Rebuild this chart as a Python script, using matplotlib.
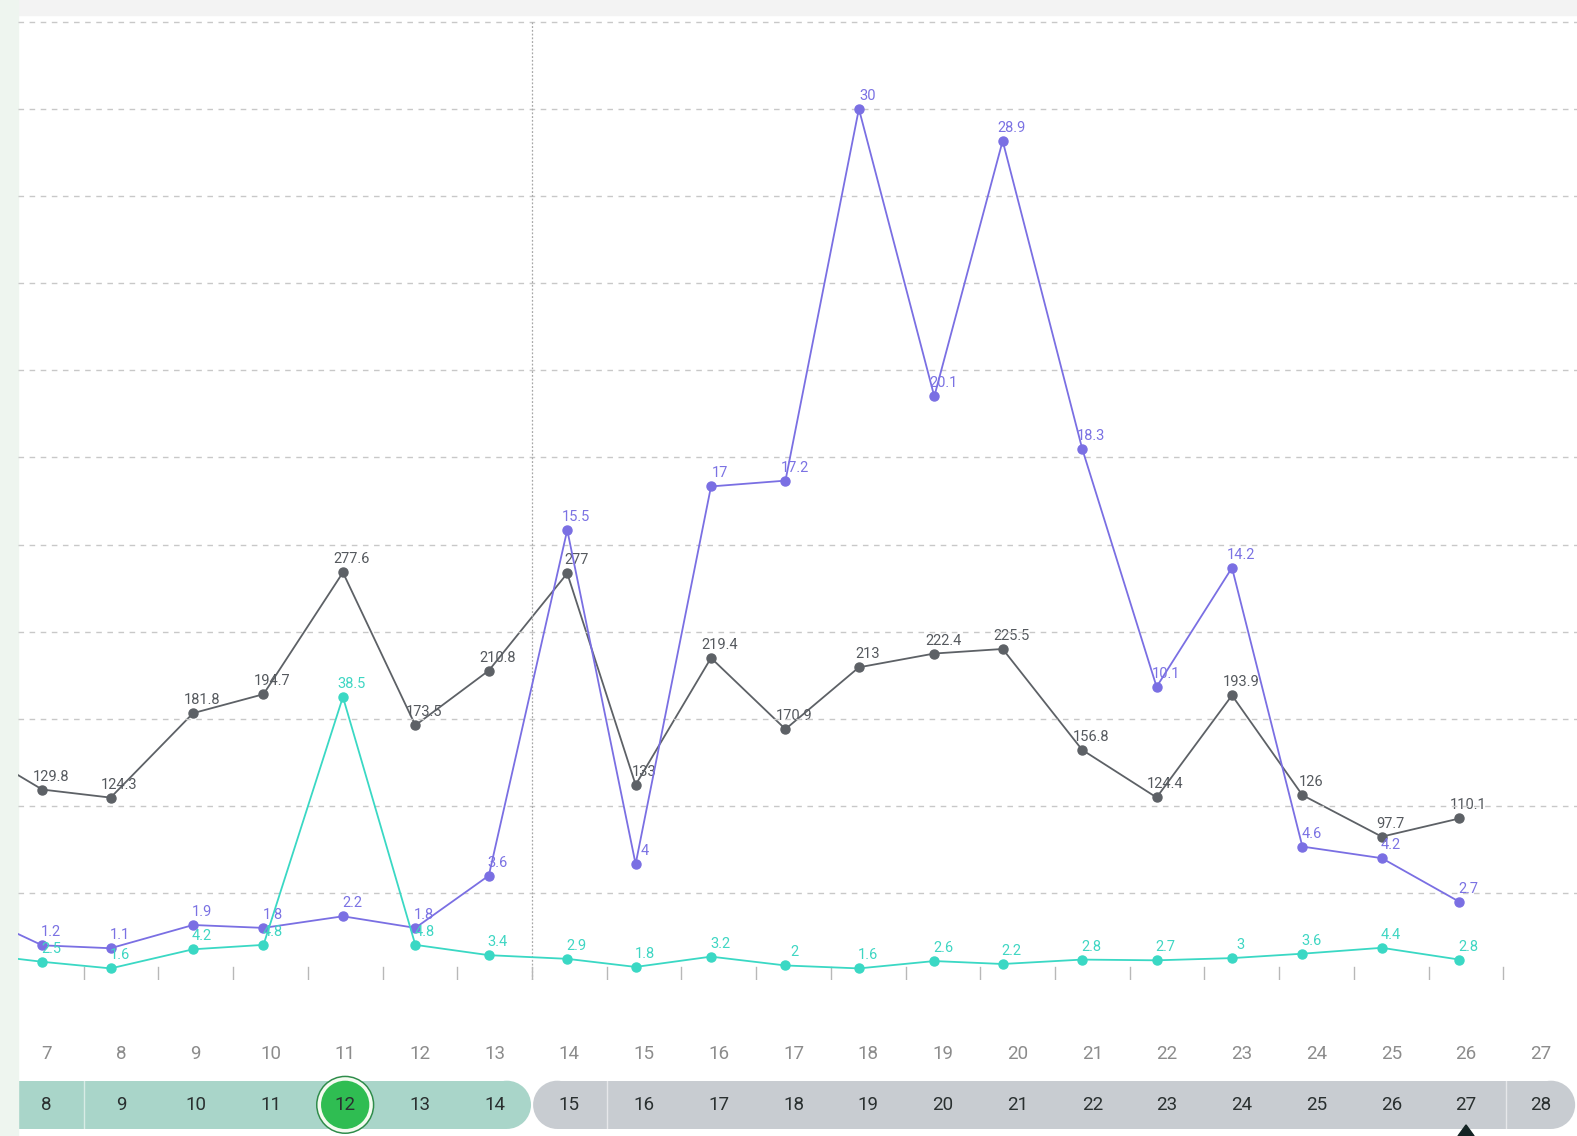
import matplotlib
matplotlib.use('Agg')
import matplotlib.pyplot as plt
from matplotlib.patches import Rectangle, Ellipse, Polygon

# ---------------- data ----------------
top_days = list(range(7, 28))          # upper label row
bottom_days = list(range(8, 29))       # lower (pill) label row
selected_day = 12                      # highlighted in the lower row
marker_day = 27                        # triangle marker in the lower row

# x position of each reading, in day units (first reading is just off the left edge)
x_pos = [5.95, 6.946, 7.861, 8.965, 9.907, 10.970, 11.939, 12.922, 13.972, 14.887,
         15.896, 16.892, 17.875, 18.884, 19.799, 20.863, 21.859, 22.868, 23.810,
         24.873, 25.910]

gray_vals = [160, 129.8, 124.3, 181.8, 194.7, 277.6, 173.5, 210.8, 277, 133, 219.4,
             170.9, 213, 222.4, 225.5, 156.8, 124.4, 193.9, 126, 97.7, 110.1]
purple_vals = [2.4, 1.2, 1.1, 1.9, 1.8, 2.2, 1.8, 3.6, 15.5, 4, 17, 17.2, 30, 20.1,
               28.9, 18.3, 10.1, 14.2, 4.6, 4.2, 2.7]
teal_vals = [3.7, 2.5, 1.6, 4.2, 4.8, 38.5, 4.8, 3.4, 2.9, 1.8, 3.2, 2, 1.6, 2.6, 2.2,
             2.8, 2.7, 3, 3.6, 4.4, 2.8]

def fmt(v):
    return ('%g' % v)

# ---------------- styling ----------------
W, H = 1577, 1136          # output size
DW, DH = 1568, 1130        # layout design frame
DPI = 100
GRAY = '#5d6166'
PURPLE = '#7a6fe3'
TEAL = '#3ad8c4'
plt.rcParams['font.family'] = ['Roboto', 'DejaVu Sans']

fig = plt.figure(figsize=(W / DPI, H / DPI), dpi=DPI, facecolor='white')

# background bands
fig.patches.append(Rectangle((0, 1 - 15 / DH), 1, 15 / DH, transform=fig.transFigure,
                             color='#f3f3f3', zorder=0))
fig.patches.append(Rectangle((0, 0), 18 / DW, 1, transform=fig.transFigure,
                             color='#eef5ef', zorder=0))

L = 18 / DW
Wd = 1 - L
B = (DH - 975) / DH
Ht = (975 - 15) / DH
xlim = (6.623, 27.485)

ax = fig.add_axes([L, B, Wd, Ht])
ax.set_facecolor('none')
ax_g = ax.twinx()
ax_t = ax.twinx()
for a in (ax, ax_g, ax_t):
    a.set_xlim(*xlim)
    for s in a.spines.values():
        s.set_visible(False)
    a.tick_params(left=False, right=False, bottom=False, labelleft=False,
                  labelright=False, labelbottom=False)

ax.set_ylim(0, 960 / 28.89)
ax_g.set_ylim(0, 960 / 1.461)
ax_t.set_ylim(0, 960 / 7.317)

# dashed grid
for k in range(1, 12):
    ax.axhline(3 * k, color='#c8c8c8', lw=1.0, ls=(0, (4, 4)), zorder=0)

# vertical dotted separator
ax.plot([13.5, 13.5], [0, 33], color='#a8a8a8', lw=0.9, ls=(0, (1.5, 1.5)), zorder=1)

# small ticks at half-days
for d in range(7, 27):
    ax.plot([d + 0.5, d + 0.5], [0, 13 / 28.89], color='#b8b8b8', lw=1.0, zorder=1)

def draw_series(a, vals, color, lcolor, z):
    a.plot(x_pos, vals, color=color, lw=1.3, marker='o', ms=6.5, mfc=color,
           mec=color, zorder=z, clip_on=True)
    for xv, yv in zip(x_pos[1:], vals[1:]):
        a.annotate(fmt(yv), (xv, yv), xytext=(9, 13), textcoords='offset pixels',
                   ha='center', va='center', fontsize=10.5, color=lcolor, zorder=z + 1)

draw_series(ax_g, gray_vals, GRAY, '#55595e', 3)
draw_series(ax, purple_vals, PURPLE, '#7b72e3', 3)
draw_series(ax_t, teal_vals, TEAL, '#3fd6c3', 3)
ax_g.set_zorder(1)
ax.set_zorder(2)
ax_t.set_zorder(3)

# ---------------- bottom day strip ----------------
axb = fig.add_axes([L, 0, Wd, B])
axb.set_xlim(*xlim)
axb.set_ylim(DH, 975)
axb.axis('off')
pxd = (DW - 18) / (xlim[1] - xlim[0])   # design pixels per day
r = 24                                   # pill radius
yc = 1099

def pill(x0, x1, color, round_left=True):
    if round_left:
        axb.add_patch(Ellipse((x0 + r / pxd, yc), 2 * r / pxd, 2 * r, color=color, lw=0))
        axb.add_patch(Rectangle((x0 + r / pxd, yc - r), x1 - x0 - 2 * r / pxd, 2 * r,
                                color=color, lw=0))
    else:
        axb.add_patch(Rectangle((x0, yc - r), x1 - x0 - r / pxd, 2 * r, color=color, lw=0))
    axb.add_patch(Ellipse((x1 - r / pxd, yc), 2 * r / pxd, 2 * r, color=color, lw=0))

pill(6.3, 13.487, '#a9d5c9', round_left=False)
pill(13.515, 27.46, '#c8ccd1')
for xs in (7.51, 14.51, 26.53):
    axb.plot([xs, xs], [yc - r, yc + r], color='white', lw=1.0, alpha=0.55)

# lower-row labels sit one column left of their number (8 under 7, ...)
sel_x = selected_day - 1
axb.add_patch(Ellipse((sel_x, yc), 2 * 29 / pxd, 58, facecolor='#2e8c4a', lw=0))
axb.add_patch(Ellipse((sel_x, yc), 2 * 27.5 / pxd, 55, facecolor='#f4fbf0', lw=0))
axb.add_patch(Ellipse((sel_x, yc), 2 * 24 / pxd, 48, facecolor='#2fbd52', lw=0))

for d in top_days:
    axb.text(d, 1048, str(d), ha='center', va='center', fontsize=13.5, color='#8c8c8c')
for d in bottom_days:
    axb.text(d - 1, yc, str(d), ha='center', va='center', fontsize=13.5,
             color='#2a3030', zorder=5)

# marker triangle
mk_x = marker_day - 1
axb.add_patch(Polygon([(mk_x - 8 / pxd, DH), (mk_x + 8 / pxd, DH),
                       (mk_x, 1119)], closed=True, color='#142424', clip_on=False))

fig.savefig('out.png', dpi=DPI, facecolor='white')
